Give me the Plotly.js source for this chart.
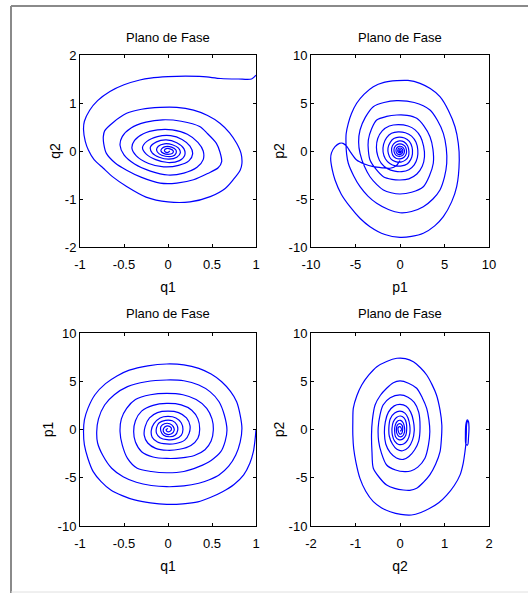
<!DOCTYPE html>
<html>
<head>
<meta charset="utf-8">
<script src="https://cdn.plot.ly/plotly-3.0.1.min.js"></script>
<style>html,body{margin:0;padding:0;background:#fff;}#chart{width:528px;height:593px;}</style>
</head>
<body>
<div id="chart"></div>
<script>
// Panel A: q1 vs q2
const q1_A = [1.00,0.95,0.80,0.60,0.40,0.20,0.00,-0.20,-0.32,-0.50,-0.66,-0.80,-0.89,-0.95,-0.96,-0.94,-0.905,-0.84,-0.735,-0.62,-0.47,-0.25,0.00,0.25,0.48,0.65,0.74,0.82,0.84,0.83,0.78,0.70,0.59,0.45,0.29,0.10,-0.09,-0.30,-0.47,-0.62,-0.72,-0.735,-0.73,-0.70,-0.60,-0.47,-0.30,-0.09,0.10,0.29,0.45,0.57,0.61,0.59,0.55,0.45,0.36,0.15,-0.06,-0.25,-0.42,-0.52,-0.545,-0.50,-0.38,-0.20,0.00,0.18,0.33,0.40,0.40,0.34,0.22,0.05,-0.12,-0.28,-0.38,-0.41,-0.36,-0.22,-0.05,0.12,0.24,0.28,0.25,0.16,0.03,-0.12,-0.24,-0.29,-0.25,-0.14,0.00,0.13,0.19,0.18,0.10,-0.02,-0.13,-0.20,-0.18,-0.10,0.01,0.10,0.14,0.12,0.05,-0.04,-0.11,-0.13,-0.10,-0.03,0.05,0.09,0.09,0.04,-0.03,-0.07,-0.08,-0.05,0.00,0.05,0.06,0.03,-0.02,-0.04,-0.03,0.00,0.02];
const q2_A = [1.58,1.50,1.50,1.51,1.55,1.56,1.55,1.52,1.48,1.38,1.24,1.05,0.85,0.62,0.45,0.20,0.02,-0.18,-0.36,-0.55,-0.74,-0.96,-1.06,-1.06,-0.95,-0.78,-0.60,-0.40,-0.26,-0.05,0.16,0.38,0.58,0.74,0.85,0.91,0.91,0.87,0.785,0.60,0.42,0.30,0.15,-0.05,-0.25,-0.40,-0.55,-0.67,-0.67,-0.60,-0.47,-0.35,-0.22,-0.02,0.16,0.36,0.51,0.62,0.65,0.60,0.48,0.30,0.12,-0.08,-0.27,-0.42,-0.50,-0.46,-0.34,-0.18,0.00,0.18,0.35,0.44,0.44,0.36,0.22,0.06,-0.10,-0.26,-0.33,-0.30,-0.20,-0.06,0.10,0.24,0.32,0.30,0.20,0.07,-0.06,-0.18,-0.24,-0.20,-0.09,0.05,0.17,0.23,0.19,0.08,-0.04,-0.13,-0.17,-0.13,-0.04,0.06,0.13,0.15,0.10,0.02,-0.06,-0.11,-0.11,-0.05,0.02,0.08,0.09,0.05,0.00,-0.05,-0.07,-0.05,0.00,0.04,0.05,0.02,-0.02,-0.03,0.00];

// Panel B: p1 vs p2
const p1_B = [0.0,-0.5,-1.12,-2.0,-3.0,-4.0,-4.87,-5.5,-6.0,-6.4,-6.8,-7.3,-7.7,-7.79,-7.6,-7.3,-6.6,-5.62,-4.5,-3.37,-1.7,0.0,1.3,2.62,3.9,4.87,5.8,6.37,6.66,6.55,6.18,5.45,4.49,3.4,2.25,0.9,-0.37,-1.8,-3.0,-4.05,-4.87,-5.45,-5.81,-6.05,-6.07,-6.0,-5.81,-5.2,-4.49,-3.6,-2.62,-1.3,0.0,1.3,2.62,3.7,4.49,5.0,5.25,5.2,4.87,4.2,3.37,1.6,-0.37,-1.8,-3.0,-3.9,-4.49,-4.65,-4.49,-4.0,-3.37,-2.6,-1.87,-1.0,0.0,1.3,2.62,3.3,3.74,3.7,3.37,2.7,1.88,0.8,-0.37,-1.5,-2.62,-3.2,-3.56,-3.55,-3.37,-2.7,-1.87,-0.9,0.0,1.0,1.9,2.5,2.75,2.65,2.3,1.7,0.9,-0.2,-1.2,-2.0,-2.5,-2.65,-2.5,-2.1,-1.4,-0.6,0.2,1.0,1.6,1.95,2.0,1.8,1.3,0.6,-0.2,-0.95,-1.5,-1.85,-1.9,-1.65,-1.15,-0.5,0.2,0.8,1.2,1.4,1.35,1.05,0.5,-0.1,-0.7,-1.1,-1.35,-1.3,-1.0,-0.5,0.1,0.6,0.95,1.0,0.85,0.45,-0.05,-0.5,-0.85,-0.95,-0.8,-0.45,0.0,0.45,0.7,0.72,0.55,0.2,-0.2,-0.55,-0.68,-0.58,-0.3,0.05,0.35,0.5,0.45,0.22,-0.1,-0.38,-0.45,-0.35,-0.1,0.15,0.3,0.28,0.1,-0.12,-0.25,-0.22,-0.08,0.08,0.15,0.1,-0.02,-0.1,-0.08,0.0,0.04];
const p2_B = [-1.0,-1.6,-1.80,-1.75,-1.63,-1.35,-0.94,-0.2,0.5,0.8,0.8,0.45,-0.2,-0.8,-2.0,-3.02,-4.5,-5.8,-7.0,-7.88,-8.7,-9.0,-8.9,-8.57,-7.8,-6.84,-5.3,-3.72,-0.94,0.8,2.53,4.2,5.66,6.5,7.05,7.35,7.33,7.15,6.7,5.9,4.97,3.9,2.88,1.8,0.80,-0.3,-1.28,-2.6,-3.72,-4.7,-5.45,-6.1,-6.43,-6.3,-5.8,-5.0,-4.06,-2.7,-1.28,0.3,1.84,3.2,4.27,5.05,5.24,5.05,4.62,3.5,2.19,0.95,-0.24,-1.6,-2.68,-3.5,-4.06,-4.35,-4.48,-4.3,-3.72,-2.6,-1.28,0.2,1.49,2.6,3.41,3.72,3.75,3.6,3.23,2.3,1.15,0.0,-0.94,-1.9,-2.68,-2.95,-3.02,-2.9,-2.4,-1.6,-0.6,0.5,1.5,2.2,2.6,2.75,2.6,2.1,1.3,0.4,-0.5,-1.3,-1.85,-2.1,-2.15,-1.95,-1.45,-0.7,0.1,0.9,1.55,1.9,2.0,1.85,1.4,0.7,-0.1,-0.8,-1.3,-1.55,-1.55,-1.35,-0.9,-0.3,0.4,1.0,1.35,1.45,1.3,0.9,0.3,-0.3,-0.85,-1.1,-1.15,-0.95,-0.55,0.0,0.55,0.95,1.05,0.9,0.55,0.05,-0.45,-0.75,-0.82,-0.65,-0.3,0.12,0.5,0.72,0.72,0.48,0.1,-0.28,-0.52,-0.55,-0.4,-0.1,0.22,0.45,0.48,0.3,0.0,-0.25,-0.38,-0.32,-0.1,0.15,0.3,0.28,0.1,-0.1,-0.2,-0.16,-0.02,0.1,0.14,0.06,-0.05,-0.07,0.0];

// Panel C: q1 vs p1
const q1_C = [1.00,0.99,0.97,0.93,0.86,0.75,0.62,0.48,0.34,0.17,-0.015,-0.20,-0.38,-0.52,-0.65,-0.76,-0.85,-0.91,-0.95,-0.96,-0.95,-0.91,-0.83,-0.71,-0.58,-0.44,-0.23,-0.015,0.18,0.35,0.49,0.61,0.71,0.78,0.82,0.84,0.82,0.77,0.69,0.58,0.47,0.35,0.18,-0.015,-0.19,-0.36,-0.51,-0.64,-0.74,-0.80,-0.81,-0.79,-0.72,-0.61,-0.46,-0.25,-0.015,0.18,0.35,0.48,0.58,0.64,0.67,0.65,0.60,0.49,0.35,0.18,-0.015,-0.19,-0.35,-0.46,-0.52,-0.545,-0.53,-0.47,-0.37,-0.20,-0.015,0.17,0.32,0.44,0.50,0.515,0.49,0.42,0.30,0.15,-0.015,-0.17,-0.30,-0.37,-0.39,-0.37,-0.30,-0.17,-0.015,0.15,0.27,0.34,0.36,0.34,0.26,0.13,-0.01,-0.14,-0.23,-0.27,-0.26,-0.21,-0.12,0.0,0.12,0.21,0.25,0.24,0.19,0.09,-0.02,-0.12,-0.18,-0.19,-0.16,-0.09,0.0,0.09,0.15,0.17,0.15,0.08,-0.01,-0.09,-0.13,-0.13,-0.10,-0.03,0.05,0.10,0.11,0.08,0.02,-0.05,-0.08,-0.08,-0.04,0.02,0.06,0.07,0.04,-0.01,-0.05,-0.05,-0.02,0.02,0.04,0.02,-0.01,-0.02,0.0];
const p1_C = [0.0,-1.0,-2.3,-3.5,-4.7,-5.7,-6.45,-7.05,-7.5,-7.7,-7.75,-7.6,-7.3,-6.85,-6.27,-5.4,-4.37,-3.0,-1.6,-0.23,1.0,2.19,3.6,4.75,5.55,6.15,6.6,6.79,6.7,6.34,5.75,4.95,3.95,2.88,1.5,0.12,-1.3,-2.64,-3.8,-4.71,-5.2,-5.57,-5.85,-5.93,-5.8,-5.47,-4.9,-4.02,-2.7,-1.4,-0.23,1.1,2.54,3.6,4.44,4.95,5.13,5.05,4.61,3.9,2.88,1.5,-0.05,-1.2,-2.3,-3.2,-3.85,-4.35,-4.48,-4.35,-4.02,-3.0,-1.6,-0.23,1.1,2.19,3.1,3.6,3.75,3.6,3.1,2.2,1.1,-0.05,-1.2,-2.1,-2.7,-2.95,-3.0,-2.85,-2.3,-1.3,-0.23,0.9,1.9,2.5,2.7,2.55,2.0,1.1,0.0,-0.9,-1.65,-2.05,-2.15,-1.95,-1.4,-0.6,0.3,1.2,1.75,1.9,1.75,1.2,0.4,-0.4,-1.1,-1.45,-1.5,-1.3,-0.8,-0.1,0.6,1.2,1.35,1.2,0.7,0.0,-0.6,-1.0,-1.05,-0.85,-0.4,0.2,0.7,0.95,0.9,0.5,-0.1,-0.6,-0.75,-0.6,-0.2,0.3,0.6,0.6,0.3,-0.1,-0.45,-0.5,-0.25,0.1,0.35,0.3,0.05,-0.2,-0.2,0.0,0.1];

// Panel D: q2 vs p2
const q2_D = [1.55,1.54,1.51,1.48,1.47,1.48,1.52,1.54,1.55,1.53,1.50,1.49,1.48,1.46,1.42,1.35,1.22,1.05,0.87,0.67,0.47,0.26,0.02,-0.22,-0.42,-0.60,-0.77,-0.90,-0.99,-1.04,-1.06,-1.06,-1.05,-0.97,-0.86,-0.70,-0.52,-0.30,-0.07,0.12,0.30,0.46,0.60,0.72,0.82,0.90,0.94,0.93,0.90,0.80,0.67,0.52,0.375,0.22,0.075,-0.12,-0.30,-0.46,-0.60,-0.63,-0.64,-0.62,-0.56,-0.44,-0.30,-0.15,0.0,0.19,0.375,0.50,0.60,0.65,0.67,0.64,0.56,0.40,0.24,0.11,-0.10,-0.30,-0.42,-0.48,-0.49,-0.45,-0.38,-0.22,0.0,0.18,0.32,0.42,0.45,0.42,0.33,0.20,0.075,-0.08,-0.22,-0.32,-0.35,-0.33,-0.26,-0.13,0.0,0.14,0.24,0.30,0.32,0.28,0.19,0.06,-0.07,-0.17,-0.24,-0.25,-0.22,-0.12,0.0,0.11,0.18,0.22,0.22,0.17,0.08,-0.03,-0.12,-0.17,-0.18,-0.15,-0.08,0.01,0.09,0.14,0.15,0.13,0.06,-0.03,-0.10,-0.12,-0.11,-0.06,0.01,0.07,0.10,0.10,0.05,-0.02,-0.07,-0.08,-0.06,0.0,0.05,0.06,0.04,-0.01,-0.04,-0.04,0.0,0.03,0.02,0.0];
const p2_D = [0.0,0.8,1.0,0.5,-0.6,-1.5,-1.6,-0.8,0.3,0.9,0.6,-0.5,-1.5,-2.3,-3.5,-4.7,-5.8,-6.8,-7.6,-8.17,-8.6,-8.86,-8.8,-8.52,-8.1,-7.48,-6.4,-5.06,-3.4,-2.0,-0.57,0.8,2.19,3.5,4.61,5.65,6.51,7.05,7.38,7.35,7.03,6.4,5.65,4.65,3.58,2.0,0.47,-1.0,-2.3,-3.6,-4.7,-5.5,-6.09,-6.3,-6.27,-6.1,-5.75,-5.0,-4.02,-2.3,-0.57,1.0,2.54,3.55,4.27,4.85,5.03,4.8,4.27,3.3,2.19,1.0,-0.23,-1.6,-2.98,-3.9,-4.3,-4.37,-4.2,-3.68,-2.4,-1.2,0.2,1.5,2.54,3.3,3.58,3.35,2.8,1.8,0.12,-1.2,-2.1,-2.8,-3.1,-2.95,-2.4,-1.5,-0.4,0.8,1.8,2.45,2.6,2.4,1.8,0.9,-0.1,-1.1,-1.85,-2.2,-2.05,-1.5,-0.7,0.2,1.1,1.7,1.9,1.7,1.2,0.4,-0.4,-1.1,-1.5,-1.55,-1.2,-0.6,0.1,0.8,1.25,1.4,1.2,0.7,0.0,-0.6,-1.0,-1.05,-0.75,-0.2,0.4,0.85,0.95,0.7,0.25,-0.3,-0.7,-0.72,-0.4,0.05,0.45,0.6,0.4,0.0,-0.4,-0.45,-0.15,0.2,0.3,0.1,-0.15,-0.1];

const panelTitle = 'Plano de Fase';
const ticksQ1 = [-1,-0.5,0,0.5,1];
const ticksQ2y = [-2,-1,0,1,2];
const ticksP = [-10,-5,0,5,10];
const ticksQ2x = [-2,-1,0,1,2];

const W = 528, H = 593;
const xd1 = [80/W, 256/W], xd2 = [311/W, 489/W];
const yd1 = [1-247/H, 1-55/H], yd2 = [1-526/H, 1-333/H];

const lineStyle = {color:'#0000ff', width:1.2, shape:'spline', smoothing:0.8};
const traces = [
  {x:q1_A, y:q2_A, xaxis:'x', yaxis:'y'},
  {x:p1_B, y:p2_B, xaxis:'x2', yaxis:'y2'},
  {x:q1_C, y:p1_C, xaxis:'x3', yaxis:'y3'},
  {x:q2_D, y:p2_D, xaxis:'x4', yaxis:'y4'}
].map(t => Object.assign(t, {type:'scatter', mode:'lines', line:lineStyle, hoverinfo:'skip'}));

const FAM = '"Liberation Sans", Arial, sans-serif';
const font = {family:FAM, size:13, color:'#000'};
function ax(domain, range, tickvals, anchor, title, isY){
  return {
    domain: domain, range: range, tickvals: tickvals, ticktext: tickvals.map(String),
    anchor: anchor, showgrid:false, zeroline:false, showline:true, linecolor:'#000', linewidth:1,
    mirror:'ticks', ticks:'inside', ticklen:3, tickcolor:'#000', tickwidth:1,
    ticklabelstandoff: isY ? 0 : 5,
    tickfont: font, automargin:false,
    title: {text: title, font:{family:FAM, size:14, color:'#000'}, standoff: isY ? 0 : 11}
  };
}

const layout = {
  width: W, height: H, margin:{l:0,r:0,t:0,b:0},
  paper_bgcolor:'#fff', plot_bgcolor:'#fff', showlegend:false,
  xaxis:  ax(xd1, [-1,1], ticksQ1, 'y', 'q1', false),
  yaxis:  ax(yd1, [-2,2], ticksQ2y, 'x', 'q2', true),
  xaxis2: ax(xd2, [-10,10], ticksP, 'y2', 'p1', false),
  yaxis2: ax(yd1, [-10,10], ticksP, 'x2', 'p2', true),
  xaxis3: ax(xd1, [-1,1], ticksQ1, 'y3', 'q1', false),
  yaxis3: ax(yd2, [-10,10], ticksP, 'x3', 'p1', true),
  xaxis4: ax(xd2, [-2,2], ticksQ2x, 'y4', 'q2', false),
  yaxis4: ax(yd2, [-10,10], ticksP, 'x4', 'p2', true),
  annotations: [
    {text:panelTitle, x:(xd1[0]+xd1[1])/2, y:1-37/H},
    {text:panelTitle, x:(xd2[0]+xd2[1])/2, y:1-37/H},
    {text:panelTitle, x:(xd1[0]+xd1[1])/2, y:1-313/H},
    {text:panelTitle, x:(xd2[0]+xd2[1])/2, y:1-313/H}
  ].map(a => Object.assign(a, {xref:'paper', yref:'paper', showarrow:false, xanchor:'center', yanchor:'middle', font:font})),
  shapes: [
    {type:'line', xref:'paper', yref:'paper', x0:11/W, x1:11/W, y0:0, y1:1-6/H, line:{color:'#8a8a8a', width:2}},
    {type:'line', xref:'paper', yref:'paper', x0:11/W, x1:1, y0:1-6/H, y1:1-6/H, line:{color:'#8a8a8a', width:2}},
    {type:'line', xref:'paper', yref:'paper', x0:11/W, x1:1, y0:1-592/H, y1:1-592/H, line:{color:'#e0e0e0', width:1}}
  ]
};

Plotly.newPlot('chart', traces, layout, {staticPlot:true, displayModeBar:false});
</script>
</body>
</html>
